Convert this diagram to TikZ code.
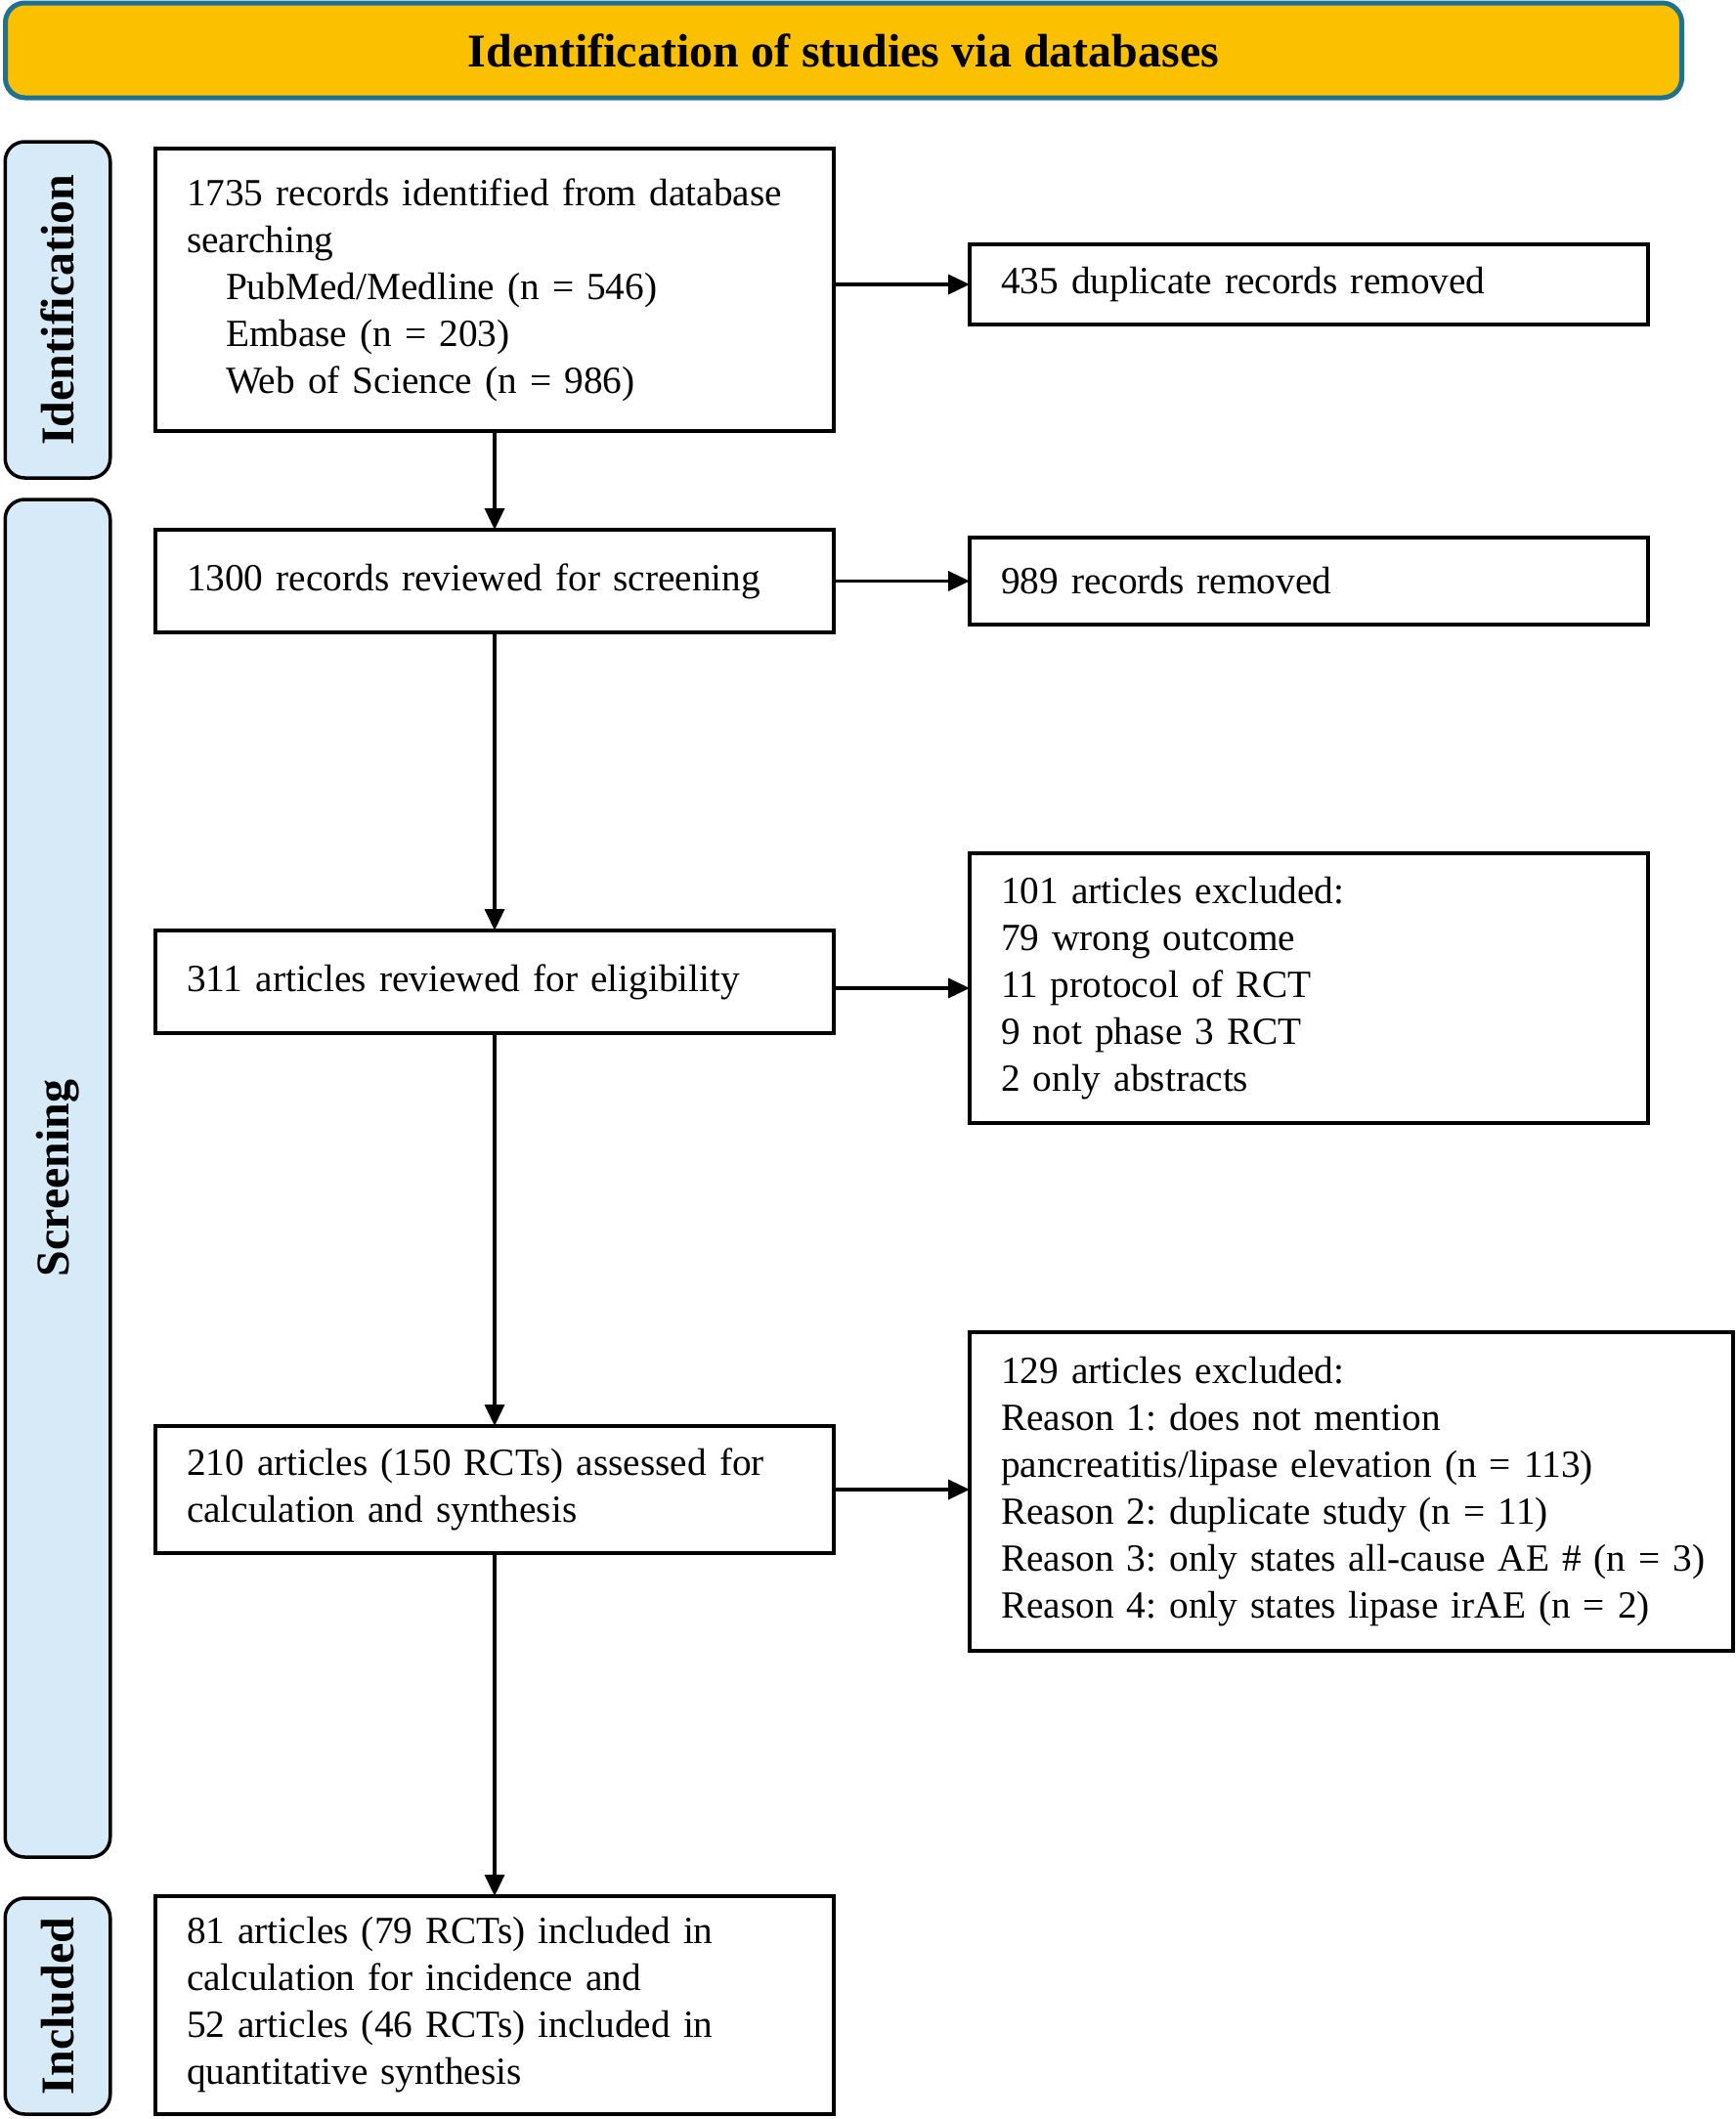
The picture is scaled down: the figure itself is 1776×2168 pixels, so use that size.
\documentclass[tikz,border=0pt]{standalone}
\usepackage{fontspec}
\setmainfont{Liberation Serif}
\usetikzlibrary{arrows.meta}
\definecolor{titlegold}{RGB}{251,192,0}
\definecolor{titleedge}{RGB}{31,112,145}
\definecolor{sideblue}{RGB}{214,234,248}
\begin{document}
\begin{tikzpicture}[x=1pt,y=-1pt,
  bodyfont/.style={font=\fontsize{39.3}{48}\selectfont\frenchspacing},
  flowbox/.style={draw, line width=3.5pt, rectangle, inner xsep=32pt, inner ysep=0pt,
    outer sep=0pt, align=left, anchor=north west, bodyfont, fill=white},
  sidebox/.style={draw, line width=3.5pt, fill=sideblue, rounded corners=20pt, rotate=90,
    inner sep=0pt, outer sep=0pt, font=\fontsize{48}{56}\selectfont\bfseries},
  arr/.style={line width=3.5pt, -{Triangle[length=22pt,width=20pt]}}
]
\useasboundingbox (0,0) rectangle (1776,2168);

% title
\node[draw=titleedge, line width=5pt, fill=titlegold, rounded corners=20pt,
  minimum width=1715pt, minimum height=97pt, inner sep=0pt, outer sep=0pt,
  font=\fontsize{48}{56}\selectfont\bfseries] (title) at (863,51.5)
  {Identification of studies via databases};

% side labels
\node[sidebox, minimum width=344pt, minimum height=107.5pt] (sideid) at (59,317) {Identification};
\node[sidebox, minimum width=1389pt, minimum height=107.5pt] (sidescr) at (59,1205.5) {Screening};
\node[sidebox, minimum width=221pt, minimum height=107.5pt] (sideinc) at (59,2052.5) {Included};

% left column
\node[flowbox, text width=630pt, minimum height=289pt] (b1) at (159,152)
  {\mbox{1735 records identified from database}\\searching\\
   \hspace*{40pt}PubMed/Medline (n = 546)\\
   \hspace*{40pt}Embase (n = 203)\\
   \hspace*{40pt}Web of Science (n = 986)};
\node[flowbox, text width=630pt, minimum height=105pt] (b2) at (159,542)
  {1300 records reviewed for screening};
\node[flowbox, text width=630pt, minimum height=105pt] (b3) at (159,952)
  {311 articles reviewed for eligibility};
\node[flowbox, text width=630pt, minimum height=130pt] (b4) at (159,1459)
  {210 articles (150 RCTs) assessed for\\calculation and synthesis};
\node[flowbox, text width=630pt, minimum height=223pt] (b5) at (159,1940)
  {81 articles (79 RCTs) included in\\calculation for incidence and\\52 articles (46 RCTs) included in\\quantitative synthesis};

% right column
\node[flowbox, text width=630pt, minimum height=82pt] (r1) at (992,250)
  {435 duplicate records removed};
\node[flowbox, text width=630pt, minimum height=89pt] (r2) at (992,550)
  {989 records removed};
\node[flowbox, text width=630pt, minimum height=276pt] (r3) at (992,873)
  {101 articles excluded:\\79 wrong outcome\\11 protocol of RCT\\9 not phase 3 RCT\\2 only abstracts};
\node[flowbox, text width=717pt, minimum height=326pt] (r4) at (992,1363)
  {129 articles excluded:\\Reason 1: does not mention\\\mbox{pancreatitis/lipase elevation (n = 113)}\\\mbox{Reason 2: duplicate study (n = 11)}\\\mbox{Reason 3: only states all-cause AE \# (n = 3)}\\\mbox{Reason 4: only states lipase irAE (n = 2)}};

% connectors
\draw[arr] (b1.south) -- (b2.north);
\draw[arr] (b2.south) -- (b3.north);
\draw[arr] (b3.south) -- (b4.north);
\draw[arr] (b4.south) -- (b5.north);
\draw[arr] (b1.east |- r1.west) -- (r1.west);
\draw[arr] (b2.east |- r2.west) -- (r2.west);
\draw[arr] (b3.east |- r3.west) -- (r3.west);
\draw[arr] (b4.east) -- (b4.east -| r4.west);
\end{tikzpicture}
\end{document}
